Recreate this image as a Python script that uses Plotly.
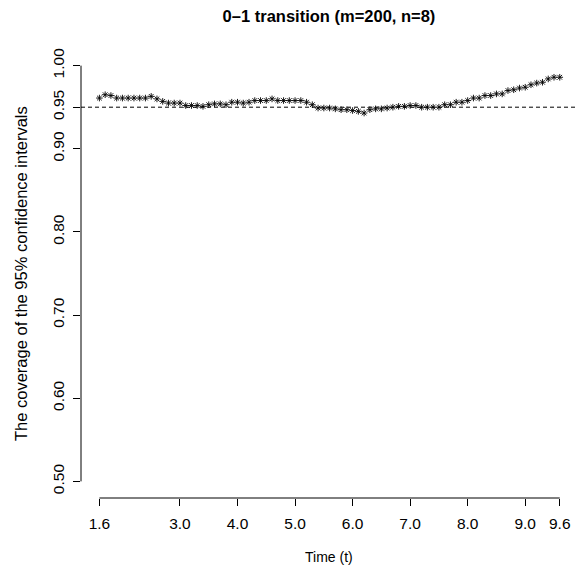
import plotly.graph_objects as go

time_t = [1.6, 1.7, 1.8, 1.9, 2.0, 2.1, 2.2, 2.3, 2.4, 2.5,
          2.6, 2.7, 2.8, 2.9, 3.0, 3.1, 3.2, 3.3, 3.4, 3.5,
          3.6, 3.7, 3.8, 3.9, 4.0, 4.1, 4.2, 4.3, 4.4, 4.5,
          4.6, 4.7, 4.8, 4.9, 5.0, 5.1, 5.2, 5.3, 5.4, 5.5,
          5.6, 5.7, 5.8, 5.9, 6.0, 6.1, 6.2, 6.3, 6.4, 6.5,
          6.6, 6.7, 6.8, 6.9, 7.0, 7.1, 7.2, 7.3, 7.4, 7.5,
          7.6, 7.7, 7.8, 7.9, 8.0, 8.1, 8.2, 8.3, 8.4, 8.5,
          8.6, 8.7, 8.8, 8.9, 9.0, 9.1, 9.2, 9.3, 9.4, 9.5, 9.6]

coverage = [0.961, 0.965, 0.964, 0.961, 0.961, 0.961, 0.961, 0.961, 0.961, 0.963,
            0.960, 0.957, 0.955, 0.955, 0.955, 0.952, 0.952, 0.952, 0.951, 0.953,
            0.954, 0.954, 0.953, 0.956, 0.956, 0.955, 0.956, 0.958, 0.958, 0.958,
            0.960, 0.958, 0.958, 0.958, 0.958, 0.958, 0.956, 0.953, 0.949, 0.949,
            0.949, 0.948, 0.947, 0.947, 0.946, 0.945, 0.943, 0.947, 0.948, 0.948,
            0.949, 0.950, 0.951, 0.951, 0.952, 0.952, 0.950, 0.950, 0.950, 0.950,
            0.953, 0.953, 0.956, 0.956, 0.958, 0.961, 0.961, 0.964, 0.964, 0.966,
            0.966, 0.970, 0.971, 0.973, 0.974, 0.977, 0.979, 0.980, 0.984, 0.986, 0.986]

x_ticks = [1.6, 3.0, 4.0, 5.0, 6.0, 7.0, 8.0, 9.0, 9.6]
x_ticktext = ["1.6", "3.0", "4.0", "5.0", "6.0", "7.0", "8.0", "9.0", "9.6"]
y_ticks = [0.50, 0.60, 0.70, 0.80, 0.90, 0.95, 1.00]
y_ticktext = ["0.50", "0.60", "0.70", "0.80", "0.90", "0.95", "1.00"]
ref_level = 0.95

title_text = "0\u20131 transition (m=200, n=8)"
x_title = "Time (t)"
y_title = "The coverage of the 95% confidence intervals"

FONT = "Liberation Sans, Arial, Helvetica, sans-serif"
W, H = 576, 569
ML = 80.5
MT = 49.4
PLOT_BOTTOM = 497.6
MB = H - PLOT_BOTTOM
PX_PER_UNIT = 57.6
TICK_FS = 15.5

fig = go.Figure()
fig.add_trace(go.Scatter(
    x=time_t, y=coverage, mode="markers",
    marker=dict(symbol="asterisk-open", size=5.5, color="black",
                line=dict(color="black", width=0.9)),
    showlegend=False, hoverinfo="x+y",
))

# reference level
fig.add_shape(type="line", xref="paper", x0=0, x1=1, yref="y",
              y0=ref_level, y1=ref_level,
              line=dict(color="black", width=1, dash="4px,3px"))
# R-style axis lines spanning first..last tick
fig.add_shape(type="line", xref="x", x0=x_ticks[0], x1=x_ticks[-1],
              yref="paper", y0=0, y1=0, line=dict(color="black", width=1))
fig.add_shape(type="line", xref="paper", x0=0, x1=0, yref="y",
              y0=y_ticks[0], y1=y_ticks[-1], line=dict(color="black", width=1))

center_x = 329

fig.update_layout(
    width=W, height=H,
    margin=dict(l=ML, r=0, t=MT, b=MB, pad=0, autoexpand=False),
    paper_bgcolor="white", plot_bgcolor="white",
    font=dict(family=FONT, size=TICK_FS, color="black"),
    title=dict(text="<b>" + title_text + "</b>", x=center_x / W,
               xanchor="center", y=1 - 16 / H, yanchor="middle",
               font=dict(family=FONT, size=16.5, color="black")),
    xaxis=dict(range=[1.28, 1.28 + (W - ML) / PX_PER_UNIT], tickvals=x_ticks,
               ticktext=x_ticktext,
               ticks="outside", ticklen=7, tickwidth=1, tickcolor="black",
               showgrid=False, zeroline=False, showline=False,
               tickfont=dict(size=TICK_FS), automargin=False, ticklabelstandoff=4),
    yaxis=dict(range=[0.48, 1.02], tickvals=y_ticks, ticktext=y_ticktext,
               ticks="outside", ticklen=7, tickwidth=1, tickcolor="black",
               showgrid=False, zeroline=False, showline=False, tickangle=-90,
               tickfont=dict(size=TICK_FS), automargin=False, ticklabelstandoff=3),
    annotations=[
        dict(text=x_title, xref="paper", yref="paper",
             x=(center_x - ML) / (W - ML), y=0,
             yshift=-(557 - PLOT_BOTTOM), xanchor="center", yanchor="middle",
             showarrow=False, font=dict(size=14)),
        dict(text=y_title, xref="paper", yref="paper", x=0,
             xshift=-(ML - 20), y=0.5, xanchor="center", yanchor="middle",
             textangle=-90, showarrow=False, font=dict(size=16.5)),
    ],
)

fig.write_html("out.html",
               config={"displayModeBar": False},
               post_script="document.body.style.margin='0px';"
                           "document.body.style.overflow='hidden';")
